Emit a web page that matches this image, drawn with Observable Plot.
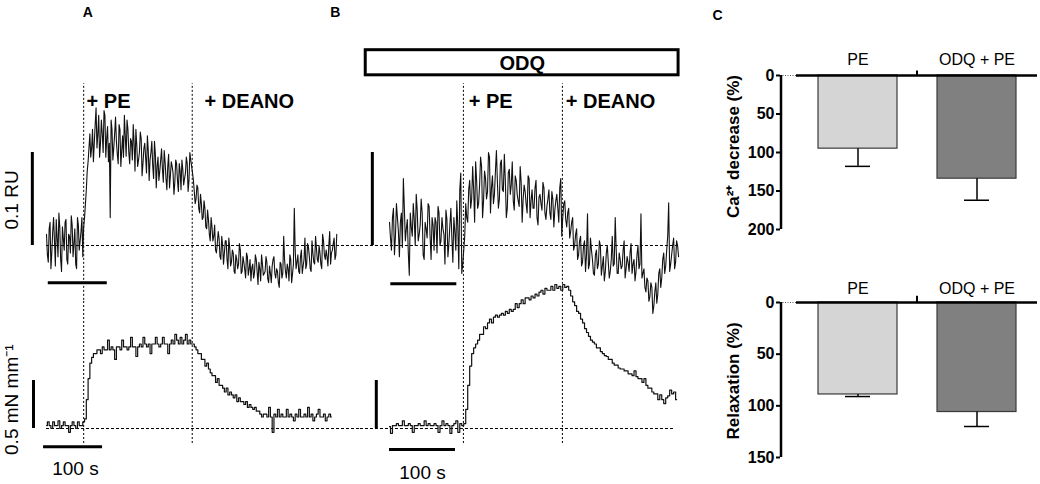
<!DOCTYPE html>
<html><head><meta charset="utf-8">
<script src="https://cdn.jsdelivr.net/npm/d3@7"></script>
<script src="https://cdn.jsdelivr.net/npm/@observablehq/plot@0.6"></script>
<style>
body{margin:0;background:#fff;}
#fig{position:relative;width:1040px;height:484px;overflow:hidden;background:#fff;}
#fig > svg{position:absolute;}
</style></head><body><div id="fig"></div>
<script>
// ---------- data ----------
const dt = 3; // s between samples
// Panel A: Ca2+ ratio trace (milli-RU above baseline), samples at t = 0, 3, 6 ...
const caA = [12,-18,25,-8,30,-22,8,35,-15,20,-5,28,-20,10,32,-12,18,-25,22,5,30,
  20,45,80,105,95,125,110,148,120,95,135,100,140,115,90,30,125,105,138,98,130,85,118,140,96,125,88,112,130,80,108,92,122,75,104,95,118,70,100,86,112,62,95,80,104,68,90,60,98,75,85,55,92,70,88,60,82,72,95,58,100,85,
  70,45,65,40,55,28,48,20,38,12,30,5,22,-8,15,-12,10,-20,5,-15,8,-22,
  -5,-28,-10,-25,2,-30,-12,-26,-8,-32,-15,-24,-35,-10,-28,-18,-38,-20,-30,-12,-36,-22,-40,-15,-30,-25,-40,-18,-35,10,-28,-20,-38,-15,-30,40,-25,-10,-30,-5,-22,8,-20,-2,-25,5,-18,10,-15,0,-20,12,-10,-5,-22,15,-8,2,-15,12];
// Panel A: Ca2+ samples between those above (t = 1.5, 4.5, ...)
const caAmid = [-10,18,-25,15,5,28,-12,20,-28,8,25,-15,12,-8,22,2,-20,30,-5,15,-12,
  30,60,90,120,105,90,130,105,140,110,120,145,95,128,110,135,92,120,112,88,125,102,95,118,135,100,115,92,110,125,85,100,115,88,110,78,102,92,112,72,98,85,70,92,82,102,72,85,62,90,78,68,88,58,80,92,65,78,88,70,92,
  78,58,50,62,35,45,30,40,18,28,5,20,10,-5,2,8,-15,0,-8,5,-25,-2,
  -18,-8,-30,-15,-20,-5,-28,-18,-35,-12,-25,-38,-20,-30,-15,-42,-25,-10,-32,-28,-18,-40,-30,-22,-12,-35,-28,-45,-20,-30,-15,-35,-25,-10,-40,-20,-5,-18,-28,-12,-30,-15,-25,2,-12,-28,-8,-20,-3,-18,-8,-25,5,-15,-12,0,-20,-5,8,-10];
// Panel A: tension (mN/mm above baseline)
const forceA = [0.03,0.07,0.03,0,0.07,0.03,0.03,0.08,0,0.03,0.07,0.03,0.03,-0.04,0.03,0.07,0.03,0,0.07,0.03,0.03,0.07,
  0.1,0.3,0.52,0.68,0.74,0.78,0.78,0.82,
  0.82,0.78,0.85,0.82,0.82,0.92,0.82,0.85,0.82,0.72,0.85,0.85,0.82,0.92,0.85,0.85,0.82,0.85,0.95,0.85,0.85,0.75,0.85,0.88,0.85,0.95,0.88,0.85,0.88,0.78,0.88,0.88,0.95,0.88,0.85,0.88,0.95,0.88,0.88,0.78,0.88,0.92,0.88,0.98,0.92,0.88,0.95,0.88,0.92,0.98,0.88,0.92,0.88,
  0.88,0.85,0.82,0.78,0.78,0.72,0.72,0.65,0.68,0.62,0.58,0.55,0.55,0.48,0.52,0.45,0.45,0.42,0.38,0.42,0.35,0.38,0.35,0.32,0.35,0.28,0.32,0.28,0.28,0.25,0.28,0.22,0.25,0.22,0.2,0.22,0.18,0.18,0.15,0.12,0.15,
  0.15,0.12,0.22,0.12,-0.04,0.15,0.12,0.2,0.12,0.15,0.12,0.12,0.2,0.12,0.15,0.12,0.08,0.15,0.12,0.2,0.12,0.12,0.15,0.12,0.22,0.12,0.15,0.08,0.12,0.15,0.2,0.12,0.12,0.15,0.08,0.12,0.15,0.12];
// Panel B (ODQ): Ca2+ ratio trace
const caB = [25,-5,40,10,30,-12,35,72,5,28,-32,20,45,0,38,12,50,-10,25,8,42,-15,22,30,-8,35,5,18,-20,28,2,40,-18,15,48,-25,78,-20,
  10,30,60,40,85,25,70,45,95,30,80,50,100,35,75,55,102,40,88,60,98,30,78,55,90,38,70,48,85,25,65,45,75,30,60,40,70,22,55,38,62,28,50,35,58,20,48,40,62,10,45,28,35,8,
  25,-5,12,-15,5,-22,0,-28,34,-20,-5,-30,-10,-25,5,-32,-12,-28,0,-35,-15,-22,30,-30,-8,-25,-5,-35,-12,-28,2,-20,-38,-10,-25,34,-30,-45,-35,-60,-40,-73,-50,-62,-30,-45,-15,-30,-5,46,-20,0,-25,5,-12];
const caBmid = [8,30,-10,45,15,25,-2,40,18,-8,35,10,28,55,5,22,35,-15,18,45,10,30,-5,25,42,0,30,12,38,-12,22,8,30,-5,20,60,-30,
  -5,45,25,70,50,60,90,40,65,85,48,72,58,95,62,45,80,68,50,92,58,70,40,82,65,48,75,55,42,68,50,58,35,72,48,40,62,30,52,45,68,35,42,60,28,50,38,55,25,72,30,48,20,40,
  15,30,0,18,-10,10,-18,5,-10,-25,8,-15,-32,-5,-20,0,-22,-38,-8,-18,-28,10,-20,-5,-30,-15,-22,5,-25,-18,-8,-30,-15,-28,0,-20,-35,-25,-50,-38,-55,-45,-65,-40,-52,-25,-35,-8,-22,10,-28,-10,8,-18,0];
// Panel B (ODQ): tension
const forceB = [0.02,-0.05,0.03,0.03,0.05,0.03,0.03,0.08,0.03,0.03,0.05,0.03,-0.04,0.03,0.03,0.05,0.03,0.03,0.08,0.03,0.05,0.03,0.03,0.05,0.03,-0.04,0.03,0.08,0.03,0.05,0.03,-0.05,0.03,0.05,0.08,-0.04,0.05,0.03,
  0.05,0.2,0.45,0.65,0.78,0.84,0.88,0.92,0.98,0.98,1.06,1.04,1.1,1.14,1.1,1.16,1.18,1.16,1.18,1.2,1.18,1.22,1.2,1.24,1.22,1.24,1.3,1.26,1.3,1.34,1.3,1.36,1.36,1.34,1.38,1.36,1.4,1.38,1.42,1.44,1.4,1.46,1.44,1.44,1.48,1.44,1.5,1.46,1.48,1.44,1.5,1.47,1.48,1.44,
  1.38,1.32,1.28,1.22,1.2,1.14,1.1,1.04,1.0,0.96,0.92,0.9,0.88,0.84,0.84,0.8,0.78,0.76,0.75,0.72,0.72,0.68,0.66,0.66,0.63,0.62,0.62,0.6,0.6,0.57,0.57,0.55,0.6,0.54,0.52,0.52,0.48,0.52,0.45,0.42,0.42,0.38,0.36,0.36,0.3,0.35,0.3,0.26,0.32,0.34,0.4,0.36,0.38,0.3];

const eventsA = [63, 247];      // s, PE and DEANO additions
const eventsB = [112, 262];
const eventLabels = ["+ PE", "+ DEANO"];
const odqPeriod = [-36, 438];   // s, ODQ present
const groups = ["PE", "ODQ + PE"];
const caDecreaseMean = [95, 134];
const caDecreaseSem = [23, 28];
const relaxMean = [89, 106];
const relaxSem = [2, 14];
const barFills = ["#d5d5d5", "#808080"];

// ---------- helpers ----------
const fig = document.getElementById("fig");
const FONT = "'Liberation Sans', Arial, Helvetica, sans-serif";
const baseStyle = {background: "transparent", overflow: "visible", fontFamily: FONT, color: "black"};
function place(node, left, top) { node.style.left = left + "px"; node.style.top = top + "px"; fig.appendChild(node); }
const series = arr => arr.map((v, i) => ({t: i * dt, v}));
function merged(a, b) {
  const out = [];
  a.forEach((v, i) => { out.push({t: i * dt, v}); if (i < b.length) out.push({t: i * dt + dt / 2, v: b[i]}); });
  return out;
}
const dash = {strokeDasharray: "2,2", strokeWidth: 1};
const TXT = {fontSize: 19, fontFamily: FONT};
const LBL = {fontSize: 20, fontFamily: FONT, fontWeight: "bold"};

function trace(opts) {
  return Plot.plot({
    width: opts.width, height: opts.height, margin: 0, style: baseStyle,
    x: {domain: opts.xDomain, axis: null},
    y: {domain: opts.yDomain, axis: null},
    marks: opts.marks
  });
}

const caDom = [-59.14, 263.44];
const fDom = [-0.5833, 1.3333];
const xDomA = [-77.97, 532.2];
const xDomB = [-134.85, 456.06];

// Panel A calcium
place(trace({width: 360, height: 300, xDomain: xDomA, yDomain: caDom, marks: [
  Plot.ruleY([0], {x1: 0, x2: 532, strokeDasharray: "3,2", strokeWidth: 1}),
  Plot.ruleX(eventsA, {y1: -59, y2: 174, ...dash}),
  Plot.lineY(merged(caA, caAmid), {x: "t", y: "v", stroke: "#111", strokeWidth: 1.1}),
  Plot.text(["A"], {x: 70, y: 251, fontWeight: "bold", fontSize: 14}),
  Plot.text(eventLabels, {x: [68, 268], y: [155, 155], text: d => d, textAnchor: "start", ...LBL}),
  Plot.ruleX([-24], {y1: 0, y2: 100, strokeWidth: 3}),
  Plot.ruleY([-40], {x1: 3, x2: 103, strokeWidth: 3}),
  Plot.text(["0.1 RU"], {x: -58, y: 49, rotate: -90, ...TXT})
]}), 0, 0);

// Panel B calcium
place(trace({width: 390, height: 300, xDomain: xDomB, yDomain: caDom, marks: [
  Plot.ruleY([0], {x1: -44, x2: 438, strokeDasharray: "3,2", strokeWidth: 1}),
  Plot.ruleX(eventsB, {y1: -59, y2: 174, ...dash}),
  Plot.lineY(merged(caB, caBmid), {x: "t", y: "v", stroke: "#111", strokeWidth: 1.1}),
  Plot.rect([odqPeriod], {x1: d => d[0], x2: d => d[1], y1: 183, y2: 210, fill: "white", stroke: "black", strokeWidth: 3}),
  Plot.text(["ODQ"], {x: (odqPeriod[0] + odqPeriod[1]) / 2, y: 196, ...LBL}),
  Plot.text(["B"], {x: -82, y: 251, fontWeight: "bold", fontSize: 14}),
  Plot.text(eventLabels, {x: [120, 267], y: [155, 155], text: d => d, textAnchor: "start", ...LBL}),
  Plot.ruleX([-26], {y1: 0, y2: 100, strokeWidth: 3}),
  Plot.ruleY([-41], {x1: 2, x2: 102, strokeWidth: 3})
]}), 300, 0);

// Panel A tension
place(trace({width: 360, height: 184, xDomain: xDomA, yDomain: fDom, marks: [
  Plot.ruleY([0], {x1: 0, x2: 532, strokeDasharray: "3,2", strokeWidth: 1}),
  Plot.ruleX(eventsA, {y1: -0.156, y2: 1.34, ...dash}),
  Plot.lineY(series(forceA), {x: "t", y: "v", curve: "step", stroke: "#111", strokeWidth: 1.2}),
  Plot.ruleX([-22], {y1: 0, y2: 0.5, strokeWidth: 3}),
  Plot.ruleY([-0.19], {x1: -5, x2: 95, strokeWidth: 3}),
  Plot.text(["100 s"], {x: 49, y: -0.417, ...TXT}),
  Plot.text(["0.5 mN mm\u207B\u00B9"], {x: -58, y: 0.3, rotate: -90, ...TXT})
]}), 0, 300);

// Panel B tension
place(trace({width: 390, height: 184, xDomain: xDomB, yDomain: fDom, marks: [
  Plot.ruleY([0], {x1: -44, x2: 433, strokeDasharray: "3,2", strokeWidth: 1}),
  Plot.ruleX(eventsB, {y1: -0.156, y2: 1.34, ...dash}),
  Plot.lineY(series(forceB), {x: "t", y: "v", curve: "step", stroke: "#111", strokeWidth: 1.2}),
  Plot.ruleX([-20], {y1: 0, y2: 0.5, strokeWidth: 3}),
  Plot.ruleY([-0.22], {x1: 0, x2: 100, strokeWidth: 3}),
  Plot.text(["100 s"], {x: 50, y: -0.458, ...TXT})
]}), 300, 300);

// Panel C bar charts
function bars({means, sems, max, ticks, label, height, marginTop, marginBottom, labelDy, yLabelDy, letter}) {
  const data = groups.map((g, i) => ({g, m: means[i], s: sems[i], fill: barFills[i]}));
  return Plot.plot({
    width: 340, height, marginLeft: 80, marginRight: 3, marginTop, marginBottom, style: baseStyle,
    x: {domain: groups, paddingInner: 0.333, paddingOuter: 0.2375, align: 0.65, axis: null},
    y: {domain: [0, max], reverse: true},
    marks: [
      Plot.barY(data, {x: "g", y: "m", fill: "fill", stroke: "#3a3a3a", strokeWidth: 1.2}),
      Plot.ruleX(data, {x: "g", y1: "m", y2: d => d.m + d.s, strokeWidth: 1.5}),
      Plot.tickY(data, {x: "g", y: d => d.m + d.s, strokeWidth: 1.5, insetLeft: 27, insetRight: 27}),
      Plot.ruleY([0], {insetLeft: 16, strokeWidth: 2.5}),
      Plot.ruleY([0], {insetRight: 241, strokeDasharray: "1,1.5", strokeWidth: 1, stroke: "#555"}),
      Plot.ruleX([groups[1]], {dx: -60, y1: 0, y2: -6, strokeWidth: 2}),
      Plot.ruleX([groups[0]], {dx: -77, y1: 0, y2: max, strokeWidth: 2.5}),
      Plot.axisY({ticks, tickSize: 4, tickPadding: 2, fontSize: 16, fontWeight: "bold", strokeWidth: 2, label: null, tickFormat: d => String(d)}),
      Plot.text(data, {x: "g", y: 0, dy: labelDy, text: "g", fontSize: 16}),
      Plot.text([label], {frameAnchor: "left", textAnchor: "middle", dx: -47, dy: yLabelDy, rotate: -90, fontWeight: "bold", fontSize: 17}),
      ...(letter ? [Plot.text([letter], {frameAnchor: "top-left", textAnchor: "middle", dx: -63, dy: -65, fontWeight: "bold", fontSize: 14})] : [])
    ]
  });
}
place(bars({means: caDecreaseMean, sems: caDecreaseSem, max: 200, ticks: [0, 50, 100, 150, 200],
  label: "Ca\u00B2\u207A decrease (%)", height: 240, marginTop: 75, marginBottom: 11, labelDy: -16, yLabelDy: -6, letter: "C"}), 700, 0);
place(bars({means: relaxMean, sems: relaxSem, max: 150, ticks: [0, 50, 100, 150],
  label: "Relaxation (%)", height: 244, marginTop: 62, marginBottom: 27, labelDy: -14, yLabelDy: 1}), 700, 240);
</script></body></html>
